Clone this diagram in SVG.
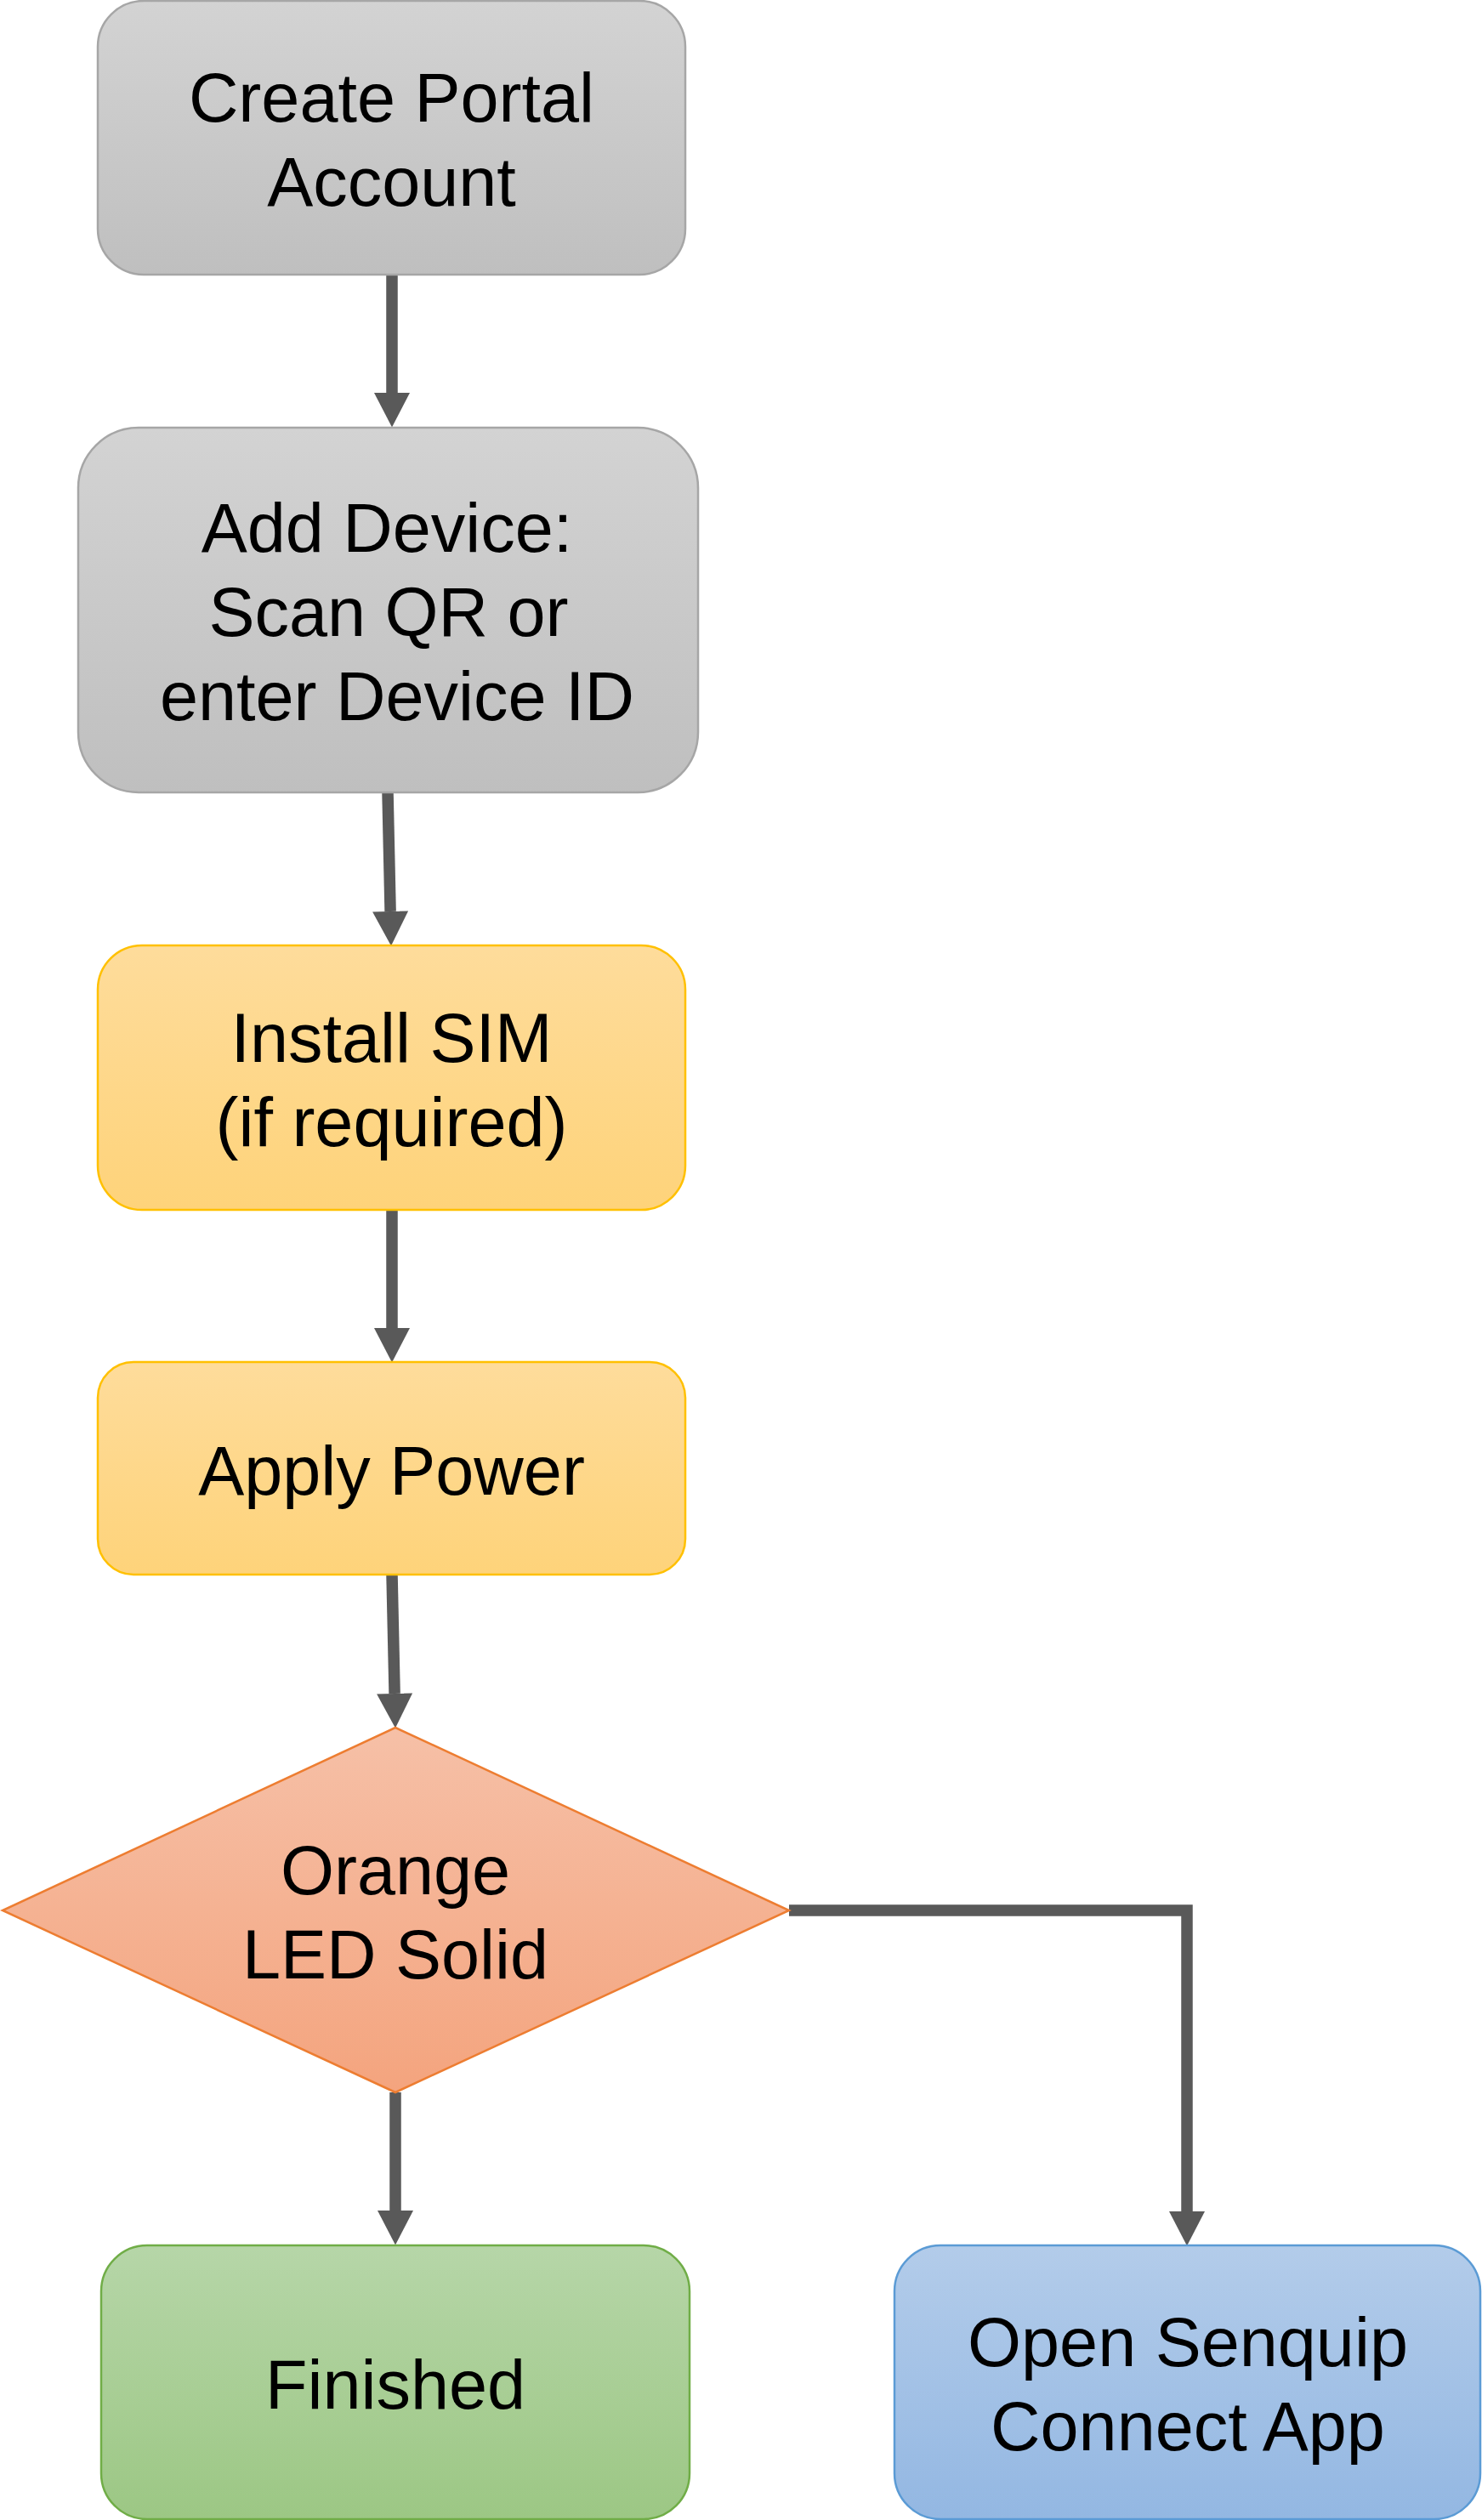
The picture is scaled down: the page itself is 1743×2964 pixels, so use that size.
<svg xmlns="http://www.w3.org/2000/svg" width="1743" height="2964" viewBox="0 0 1743 2964">
  <defs>
    <linearGradient id="gGray" x1="0" y1="0" x2="0" y2="1">
      <stop offset="0" stop-color="#d3d3d3"/>
      <stop offset="1" stop-color="#bfbfbf"/>
    </linearGradient>
    <linearGradient id="gYellow" x1="0" y1="0" x2="0" y2="1">
      <stop offset="0" stop-color="#fedc9b"/>
      <stop offset="1" stop-color="#fed37a"/>
    </linearGradient>
    <linearGradient id="gOrange" x1="0" y1="0" x2="0" y2="1">
      <stop offset="0" stop-color="#f6c0a7"/>
      <stop offset="1" stop-color="#f4a47e"/>
    </linearGradient>
    <linearGradient id="gGreen" x1="0" y1="0" x2="0" y2="1">
      <stop offset="0" stop-color="#b6d6a8"/>
      <stop offset="1" stop-color="#9cc784"/>
    </linearGradient>
    <linearGradient id="gBlue" x1="0" y1="0" x2="0" y2="1">
      <stop offset="0" stop-color="#b3ccea"/>
      <stop offset="1" stop-color="#93b7e2"/>
    </linearGradient>
    <marker id="arrow" markerUnits="userSpaceOnUse" markerWidth="42" markerHeight="42" refX="0" refY="20.75" orient="auto" viewBox="0 0 41 41.5">
      <path d="M0,0 L40,20.75 L0,41.5 Z" fill="#595959"/>
    </marker>
  </defs>
  <style>
    .lbl { font-family: "Liberation Sans", Arial, sans-serif; font-size: 81px; fill: #000000; text-anchor: middle; }
    .conn { fill: none; stroke: #595959; stroke-width: 13.5; stroke-linecap: butt; stroke-linejoin: miter; marker-end: url(#arrow); }
    .gray { fill: url(#gGray); stroke: #a6a6a6; stroke-width: 2.5; }
    .yellow { fill: url(#gYellow); stroke: #ffc000; stroke-width: 2.5; }
    .orange { fill: url(#gOrange); stroke: #ed7d31; stroke-width: 2.5; }
    .green { fill: url(#gGreen); stroke: #70ad47; stroke-width: 2.5; }
    .blue { fill: url(#gBlue); stroke: #5b9bd5; stroke-width: 2.5; }
  </style>
  <rect width="1743" height="2964" fill="#ffffff"/>

  <g id="connectors">
    <path class="conn" d="M461,323 L461,462"/>
    <path class="conn" d="M456,932 L459.1,1072"/>
    <path class="conn" d="M461,1423 L461,1562"/>
    <path class="conn" d="M461,1852 L464.1,1992"/>
    <path class="conn" d="M465,2461 L465,2600"/>
    <path class="conn" d="M928,2247 L1396,2247 L1396,2601"/>
  </g>

  <g id="node-create-portal">
    <rect class="gray" x="115" y="1" width="691" height="322" rx="54" ry="54"/>
    <text class="lbl" x="460.5" y="143">Create Portal</text>
    <text class="lbl" x="460.5" y="242">Account</text>
  </g>

  <g id="node-add-device">
    <rect class="gray" x="92" y="503" width="729" height="429" rx="71" ry="71"/>
    <text class="lbl" x="455" y="649">Add Device:</text>
    <text class="lbl" x="457" y="748">Scan QR or</text>
    <text class="lbl" x="467" y="847">enter Device ID</text>
  </g>

  <g id="node-install-sim">
    <rect class="yellow" x="115" y="1112" width="691" height="311" rx="52" ry="52"/>
    <text class="lbl" x="460.5" y="1249">Install SIM</text>
    <text class="lbl" x="460.5" y="1348">(if required)</text>
  </g>

  <g id="node-apply-power">
    <rect class="yellow" x="115" y="1602" width="691" height="250" rx="42" ry="42"/>
    <text class="lbl" x="460.5" y="1758">Apply Power</text>
  </g>

  <g id="node-orange-led">
    <polygon class="orange" points="465,2032 928,2247 465,2461 3,2247"/>
    <text class="lbl" x="465" y="2228">Orange</text>
    <text class="lbl" x="465" y="2327">LED Solid</text>
  </g>

  <g id="node-finished">
    <rect class="green" x="119" y="2641" width="692" height="322" rx="54" ry="54"/>
    <text class="lbl" x="465" y="2833">Finished</text>
  </g>

  <g id="node-open-app">
    <rect class="blue" x="1052" y="2641" width="689" height="322" rx="54" ry="54"/>
    <text class="lbl" x="1397" y="2783">Open Senquip</text>
    <text class="lbl" x="1397" y="2882">Connect App</text>
  </g>
</svg>
